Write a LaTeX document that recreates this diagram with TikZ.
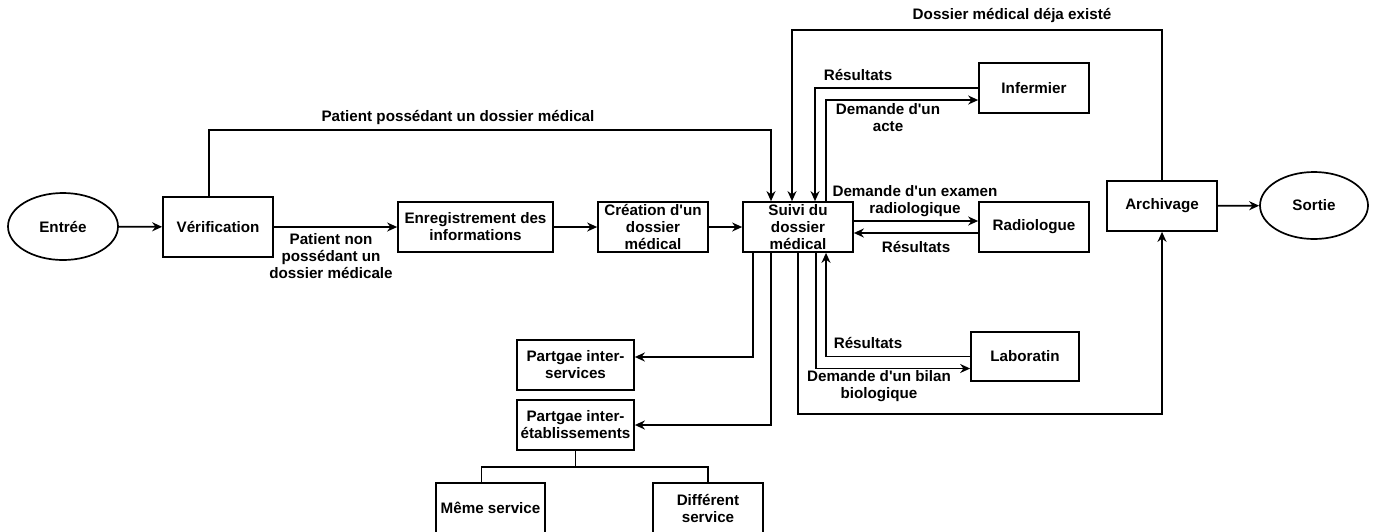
\documentclass[tikz,border=0pt]{standalone}
\usepackage{fontspec}
\setmainfont{Liberation Sans}[Ligatures=TeXOff]
\usetikzlibrary{arrows.meta,shapes.geometric}
\begin{document}
\begin{tikzpicture}[x=1pt,y=-1pt,
  every node/.style={font=\fontsize{15.2}{17}\selectfont\bfseries, align=center, inner sep=0pt},
  box/.style={draw, line width=1.7pt, rectangle, minimum width=110pt, minimum height=50pt},
  oval/.style={draw, line width=1.7pt, ellipse, minimum width=110pt, minimum height=67pt},
  lbl/.style={},
  link/.style={line width=1.7pt},
  arr/.style={line width=1.7pt, -{Stealth[length=10pt,width=9pt]}}]
\useasboundingbox (0,0) rectangle (1375,531);
\clip (0,0) rectangle (1375,531);

% main chain
\node[oval] (entree) at (63,226.5) {Entrée};
\node[box, minimum height=60pt] (verif) at (218,227) {Vérification};
\node[box, minimum width=155pt] (enreg) at (475.5,227) {Enregistrement des\\informations};
\node[box] (creation) at (653,227) {Création d'un\\dossier\\médical};
\node[box] (suivi) at (798,227) {Suivi du\\dossier\\médical};

% services
\node[box] (infermier) at (1034,88) {Infermier};
\node[box] (radio) at (1034,227) {Radiologue};
\node[box, minimum width=108pt, minimum height=49pt] (labo) at (1025,356.5) {Laboratin};

% exit
\node[box] (archiv) at (1162,206) {Archivage};
\node[oval, minimum width=108pt] (sortie) at (1314,205.5) {Sortie};

% sharing
\node[box, minimum width=117pt] (pinter) at (575.5,365) {Partgae inter-\\services};
\node[box, minimum width=117pt] (petab) at (575.5,425) {Partgae inter-\\établissements};
\node[box, minimum width=109pt] (meme) at (490.5,508) {Même service};
\node[box] (diff) at (708,508) {Différent\\service};

% routing points
\coordinate (pp) at (490,130);
\coordinate (dtop) at (1000,30);
\coordinate (abot) at (980,414);
\coordinate (tj) at (575.5,467);

% connectors of the main chain
\draw[arr] (entree) -- (verif);
\draw[arr] (verif) -- (enreg);
\draw[arr] (enreg) -- (creation);
\draw[arr] (creation) -- (suivi);
\draw[arr] ([xshift=-9pt]verif.north) |- (pp) -| ([xshift=-27pt]suivi.north);
\draw[arr] (archiv.north) |- (dtop) -| ([xshift=-6pt]suivi.north);
\draw[arr] (archiv) -- (sortie);
\draw[arr] (suivi.south) |- (abot) -| (archiv.south);

% nurse
\draw[arr] (infermier.west) -| ([xshift=17pt]suivi.north);
\draw[arr] ([xshift=28pt]suivi.north) |- ([yshift=-12pt]infermier.west);

% radiology
\draw[arr] ([yshift=6pt]suivi.east) -- ([yshift=6pt]radio.west);
\draw[arr] ([yshift=-6pt]radio.west) -- ([yshift=-6pt]suivi.east);

% laboratory
\draw[arr] (labo.west) -| ([xshift=28pt]suivi.south);
\draw[arr] ([xshift=18pt]suivi.south) |- ([yshift=-12pt]labo.west);

% sharing
\draw[arr] ([xshift=-45pt]suivi.south) |- ([yshift=8pt]pinter.east);
\draw[arr] ([xshift=-27pt]suivi.south) |- (petab.east);
\draw[link] (petab.south) -- (tj);
\draw[link] (tj) -| ([xshift=-9pt]meme.north);
\draw[link] (tj) -| (diff.north);

% labels
\node[lbl] (l1) at (331,256) {Patient non\\possédant un\\dossier médicale};
\node[lbl] (l2) at (458,117) {Patient possédant un dossier médical};
\node[lbl] (l3) at (1012,15) {Dossier médical déja existé};
\node[lbl] (l4) at (858,75) {Résultats};
\node[lbl] (l5) at (888,118) {Demande d'un\\acte};
\node[lbl] (l6) at (915,201) {Demande d'un examen\\radiologique};
\node[lbl] (l7) at (916,247) {Résultats};
\node[lbl] (l8) at (868,343) {Résultats};
\node[lbl] (l9) at (879,386) {Demande d'un bilan\\biologique};
\end{tikzpicture}
\end{document}
